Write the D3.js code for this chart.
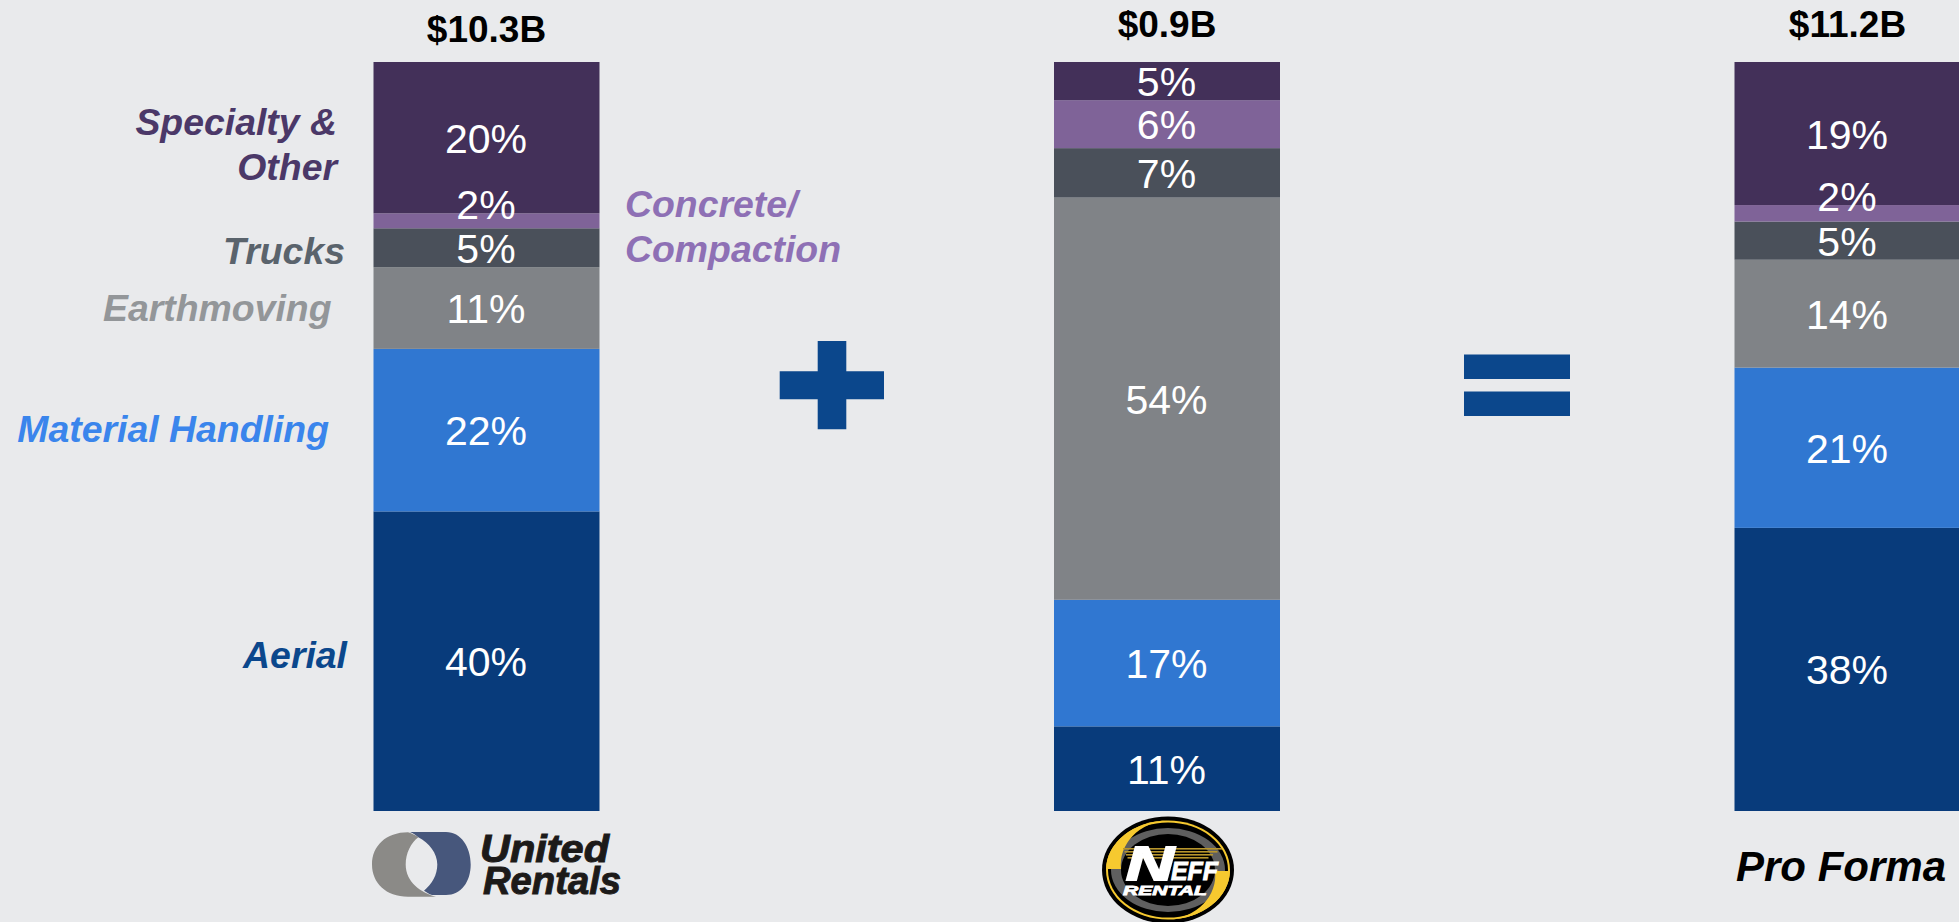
<!DOCTYPE html>
<meta charset="utf-8">
<script src="https://d3js.org/d3.v7.min.js"></script>
<body>
<style type="text/css">
html, body { margin: 0; padding: 0; background: #e9eaec; overflow: hidden; }
svg { display: block; font-family: "Liberation Sans", Arial, sans-serif; }
</style>
<svg width="1959" height="922"></svg>
<script>
  // data
  var columns = ['United Rentals', 'Neff', 'Pro Forma'];
  var totals = ['$10.3B', '$0.9B', '$11.2B'];
  var categories = ['Aerial', 'Material Handling', 'Earthmoving', 'Trucks', 'Concrete/Compaction', 'Specialty & Other'];
  var aerial = [40.0, 11.3, 37.8];
  var materialHandling = [21.7, 16.9, 21.4];
  var earthmoving = [10.9, 53.7, 14.4];
  var trucks = [5.2, 6.6, 5.1];
  var concrete = [2.0, 6.4, 2.2];
  var specialty = [20.2, 5.1, 19.1];

  var series = [aerial, materialHandling, earthmoving, trucks, concrete, specialty];
  var barColors = ['#083b7b', '#3077d1', '#808387', '#4a505a', '#7f6398', '#433059'];

  // category names next to the first column: [lines, anchor, x, baselines, colour]
  var labelLayout = [
    [['Aerial'], 'end', 347, [668], '#0b478c'],
    [['Material Handling'], 'end', 329, [442], '#3a85ec'],
    [['Earthmoving'], 'end', 331.5, [321], '#939699'],
    [['Trucks'], 'end', 345, [264], '#5a636c'],
    [['Concrete/', 'Compaction'], 'start', 625, [217, 262], '#8e70b5'],
    [['Specialty &', 'Other'], 'end', 337, [135, 180], '#4b3868']
  ];

  var barWidth = 226;
  var svg = d3.select('svg');

  var x = d3.scalePoint().domain(columns).range([486.5, 1847.5]);
  var y = d3.scaleLinear().domain([0, 100]).range([811, 62]);
  var pct = d3.format('.0f');

  var rows = columns.map(function(c, i) {
    var row = {column: c};
    categories.forEach(function(k, s) { row[k] = series[s][i]; });
    return row;
  });
  var stacked = d3.stack().keys(categories)(rows);

  /* ----------- bars ----------- */

  var layers = svg.selectAll('g.layer').data(stacked).enter().append('g')
    .attr('class', 'layer')
    .attr('fill', function(d, i) { return barColors[i]; });

  layers.selectAll('rect').data(function(d) { return d; }).enter().append('rect')
    .attr('x', function(d) { return x(d.data.column) - barWidth / 2; })
    .attr('width', barWidth)
    .attr('y', function(d) { return y(d[1]); })
    .attr('height', function(d) { return y(d[0]) - y(d[1]); });

  /* ----------- percent labels ----------- */

  // own pass so the labels stay above every bar
  var labelLayers = svg.selectAll('g.pct').data(stacked).enter().append('g').attr('class', 'pct');

  labelLayers.selectAll('text').data(function(d) { return d; }).enter().append('text')
    .attr('x', function(d) { return x(d.data.column) - 0.5; })
    .attr('y', function(d) {
      var h = y(d[0]) - y(d[1]);
      // the 2% labels don't fit their band and sit up over the one above
      return (y(d[0]) + y(d[1])) / 2 + 15 - (h < 20 ? 17 : 0);
    })
    .attr('text-anchor', 'middle')
    .attr('fill', '#fff')
    .attr('font-size', 41)
    .text(function(d) { return pct(d[1] - d[0]) + '%'; });

  /* ----------- totals ----------- */

  var titleBase = [41.5, 36.5, 36.5];
  svg.selectAll('text.total').data(totals).enter().append('text')
    .attr('class', 'total')
    .attr('x', function(d, i) { return x(columns[i]); })
    .attr('y', function(d, i) { return titleBase[i]; })
    .attr('text-anchor', 'middle')
    .attr('font-size', 37)
    .attr('font-weight', 'bold')
    .text(function(d) { return d; });

  /* ----------- category names ----------- */

  labelLayout.forEach(function(l) {
    l[0].forEach(function(line, i) {
      svg.append('text')
        .attr('x', l[2])
        .attr('y', l[3][i])
        .attr('text-anchor', l[1])
        .attr('font-size', 37.4)
        .attr('font-weight', 'bold')
        .attr('font-style', 'italic')
        .attr('fill', l[4])
        .text(line);
    });
  });

  /* ----------- plus and equals ----------- */

  var opColor = '#0b478c';
  svg.append('path').attr('fill', opColor)
    .attr('d', 'M779.7,371.3H817.7V341H846.3V371.3H884V399.3H846.3V429.3H817.7V399.3H779.7Z');
  svg.append('rect').attr('fill', opColor).attr('x', 1464).attr('y', 354.5).attr('width', 106).attr('height', 24.5);
  svg.append('rect').attr('fill', opColor).attr('x', 1464).attr('y', 391.5).attr('width', 106).attr('height', 24.5);

  /* ----------- column captions ----------- */

  // United Rentals
  svg.append('path').attr('fill', '#8b8a87')
    .attr('d', 'M408,832.3C386,832.3 372,846 372,864.5C372,883 386,896.7 408,896.7L436,896.7C421,893 405.7,882 405.7,864.5C405.7,853 411,843 418.3,837.3C415,835 411,833 408,832.3Z');
  svg.append('path').attr('fill', '#47577c')
    .attr('d', 'M410,832L446,832C461,832 470.7,847 470.7,864.5C470.7,882 461,895 446,895L432,895C429,894 426,892 424,890.7C432,884 437.3,875 437.3,864.5C437.3,853 429,843 418.3,837.3C416,835 413,833 410,832Z');

  var logoText = [['United', 480, 862, 129], ['Rentals', 483, 894, 138]];
  logoText.forEach(function(t) {
    svg.append('text')
      .attr('x', t[1]).attr('y', t[2])
      .attr('font-size', 39)
      .attr('font-weight', 'bold')
      .attr('font-style', 'italic')
      .attr('fill', '#1c1a19').attr('stroke', '#1c1a19').attr('stroke-width', 1)
      .attr('textLength', t[3]).attr('lengthAdjust', 'spacingAndGlyphs')
      .text(t[0]);
  });

  // Neff
  var neffYellow = '#f6c92f';
  var neff = svg.append('g').attr('transform', 'translate(1168,870)');
  function ring(rx, ry, fill) {
    neff.append('ellipse').attr('rx', rx).attr('ry', ry).attr('fill', fill);
  }
  ring(66, 53.5, '#000');
  ring(62, 49.5, neffYellow);
  ring(60, 47.5, '#000');
  ring(57, 42, '#5f5f5f');
  ring(47, 36, '#000');
  // thick yellow crescents, upper left and lower right
  neff.append('path').attr('fill', neffYellow)
    .attr('d', 'M-62,-1A62,49.5 0 0 1 0,-49.5A50,44 0 0 0 -47,-1Z');
  neff.append('path').attr('fill', neffYellow)
    .attr('d', 'M62,1A62,49.5 0 0 1 0,49.5A50,44 0 0 0 47,1Z');
  d3.range(0, 4).forEach(function(i) {
    neff.append('rect').attr('fill', '#b8962c')
      .attr('x', -45 + i * 1.5).attr('y', -22 + i * 3)
      .attr('width', 99 - i * 6).attr('height', 1.6);
  });
  function neffText(s, tx, ty, size, len, sw) {
    neff.append('text')
      .attr('x', tx).attr('y', ty)
      .attr('font-size', size)
      .attr('font-weight', 'bold')
      .attr('font-style', 'italic')
      .attr('fill', '#fff').attr('stroke', '#fff').attr('stroke-width', sw)
      .attr('textLength', len).attr('lengthAdjust', 'spacingAndGlyphs')
      .text(s);
  }
  neffText('N', -42, 10, 49, 48, 2);
  neffText('EFF', 3, 10, 26, 47, 1);
  neffText('RENTAL', -45, 25, 13.5, 84, 0.8);

  // Pro Forma
  svg.append('text')
    .attr('x', 1736).attr('y', 881)
    .attr('font-size', 42)
    .attr('font-weight', 'bold')
    .attr('font-style', 'italic')
    .text('Pro Forma');
</script>
</body>
